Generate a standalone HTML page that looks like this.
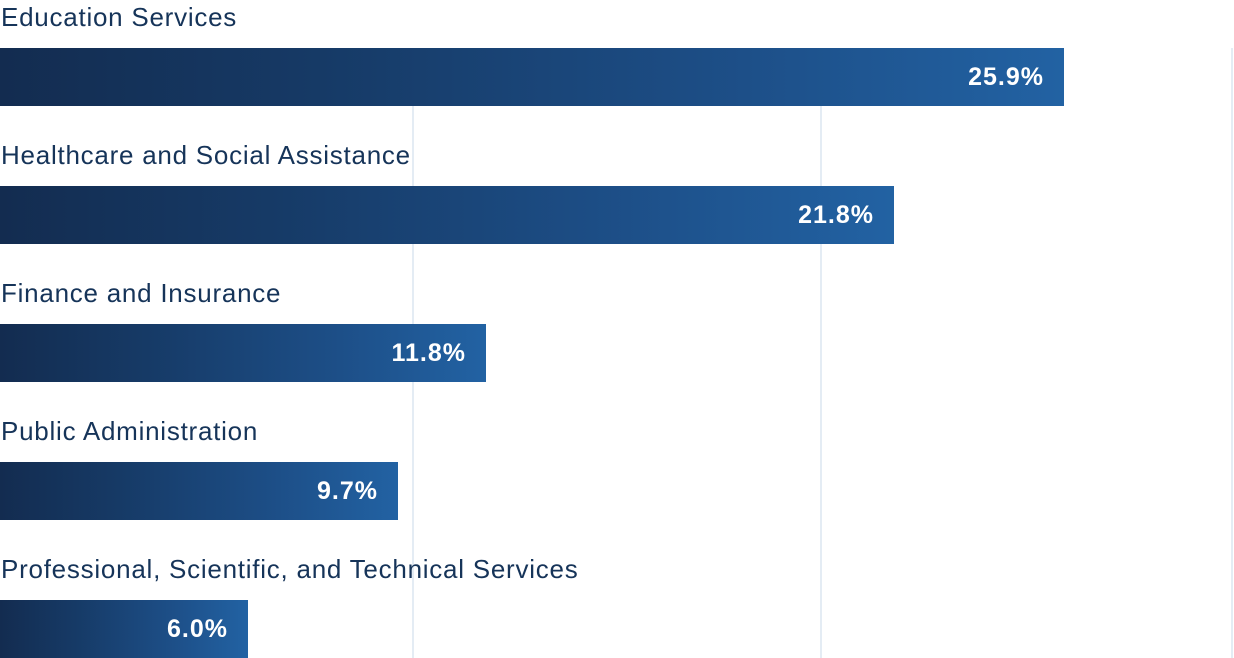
<!DOCTYPE html>
<html><head><style>
html,body{margin:0;padding:0;width:1234px;height:658px;background:#fff;overflow:hidden;position:relative;font-family:"Liberation Sans",sans-serif}
.g{position:absolute;top:48px;bottom:0;width:2px;background:#e4ecf4}
.l{position:absolute;left:1px;font-size:26px;letter-spacing:0.75px;color:#163459;line-height:30px}
.b{position:absolute;left:0;height:58px;background:linear-gradient(90deg,#132c50 0%,#163a66 30%,#1d4f88 70%,#2262a3 100%);color:#fff;font-weight:bold;font-size:25px;letter-spacing:1px;line-height:58px;text-align:right;box-sizing:border-box;padding-right:20px}
</style></head><body>
<div class="g" style="left:412px"></div>
<div class="g" style="left:820px"></div>
<div class="g" style="left:1231px"></div>
<div class="l" style="top:2px">Education Services</div>
<div class="b" style="top:48px;width:1064px">25.9%</div>
<div class="l" style="top:140px">Healthcare and Social Assistance</div>
<div class="b" style="top:186px;width:894px">21.8%</div>
<div class="l" style="top:278px">Finance and Insurance</div>
<div class="b" style="top:324px;width:486px">11.8%</div>
<div class="l" style="top:416px">Public Administration</div>
<div class="b" style="top:462px;width:398px">9.7%</div>
<div class="l" style="top:554px">Professional, Scientific, and Technical Services</div>
<div class="b" style="top:600px;width:248px">6.0%</div>
</body></html>
